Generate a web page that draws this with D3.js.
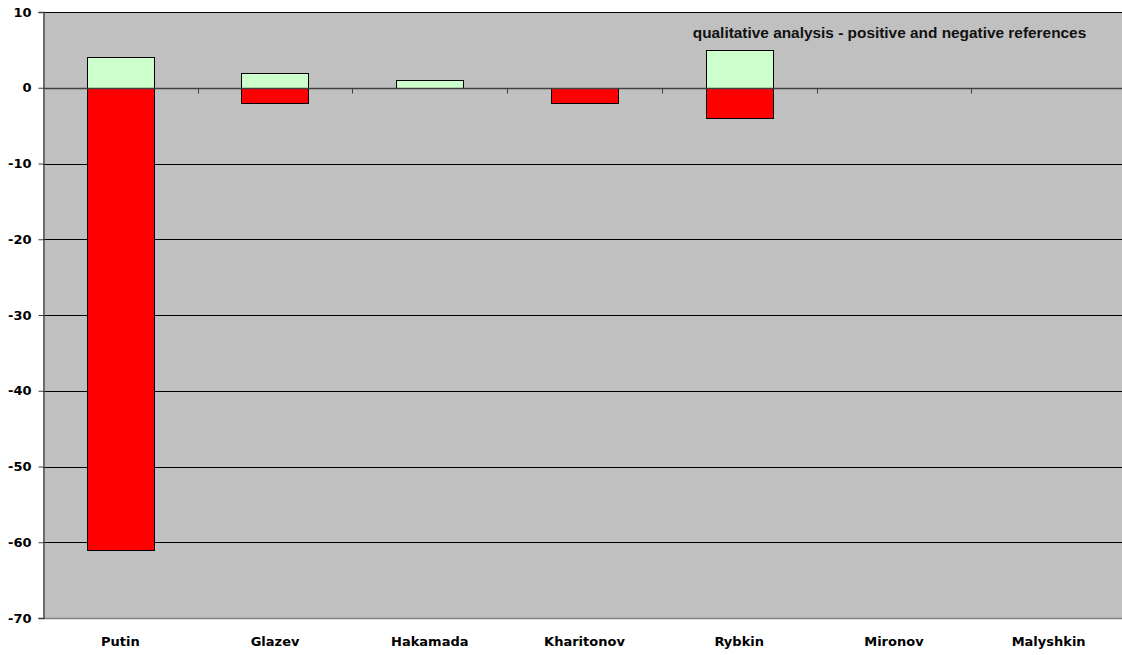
<!DOCTYPE html>
<html><head><meta charset="utf-8">
<script src="https://cdn.jsdelivr.net/npm/d3@7"></script>
<style>body{margin:0;background:#fff}svg{display:block}</style>
</head><body>
<svg id="c" width="1122" height="655"></svg>
<script>
const categories = ["Putin","Glazev","Hakamada","Kharitonov","Rybkin","Mironov","Malyshkin"];
const positive = [4, 2, 1, 0, 5, 0, 0];
const negative = [-61, -2, 0, -2, -4, 0, 0];
const yTicks = [10, 0, -10, -20, -30, -40, -50, -60, -70];
const title = "qualitative analysis - positive and negative references";

(function(){
const svg = d3.select("#c");
const pL = 43, pR = 1126, pT = 12, pB = 618;
const y = d3.scaleLinear().domain([-70, 10]).range([pB, pT]);
const x = d3.scaleBand().domain(categories).range([pL, pR]).paddingInner(0.565).paddingOuter(0.2825);
const xb = d3.scaleBand().domain(categories).range([pL, pR]).padding(0);

svg.append("rect").attr("x", pL).attr("y", pT).attr("width", pR-pL).attr("height", pB-pT).attr("fill", "#c0c0c0");

// gridlines
svg.append("g").selectAll("line").data(yTicks.filter(t => t !== 0 && t !== -70)).join("line")
  .attr("x1", pL).attr("x2", pR)
  .attr("y1", d => Math.round(y(d)) + 0.5).attr("y2", d => Math.round(y(d)) + 0.5)
  .attr("stroke", "#000").attr("stroke-width", 1);
svg.append("line").attr("x1", pL).attr("x2", pR).attr("y1", pB+0.5).attr("y2", pB+0.5).attr("stroke", "#808080").attr("stroke-width", 1.5);

// bars
svg.append("g").selectAll("rect").data(categories.filter((c,i)=>positive[i]>0)).join("rect")
  .attr("x", d => Math.round(x(d))+0.5).attr("width", Math.round(x.bandwidth()))
  .attr("y", d => Math.round(y(positive[categories.indexOf(d)]))+0.5).attr("height", d => Math.round(y(0)) - Math.round(y(positive[categories.indexOf(d)])))
  .attr("fill", "#ccffcc").attr("stroke", "#000").attr("stroke-width", 1);
svg.append("g").selectAll("rect").data(categories.filter((c,i)=>negative[i]<0)).join("rect")
  .attr("x", d => Math.round(x(d))+0.5).attr("width", Math.round(x.bandwidth()))
  .attr("y", Math.round(y(0))+0.5).attr("height", d => Math.round(y(negative[categories.indexOf(d)])) - Math.round(y(0)))
  .attr("fill", "#ff0000").attr("stroke", "#000").attr("stroke-width", 1);

// zero axis with category ticks
const y0 = Math.round(y(0)) + 0.5;
svg.append("line").attr("x1", pL).attr("x2", pR).attr("y1", y0).attr("y2", y0).attr("stroke", "#404040").attr("stroke-width", 1.3);
svg.append("g").selectAll("line").data(categories.slice(1)).join("line")
  .attr("x1", d => Math.round(xb(d))+0.5).attr("x2", d => Math.round(xb(d))+0.5)
  .attr("y1", y0).attr("y2", y0 + 5).attr("stroke", "#404040").attr("stroke-width", 1);

// y axis
const yAxis = d3.axisLeft(y).tickValues(yTicks).tickSize(5).tickPadding(7).tickFormat(d => String(d));
const ga = svg.append("g").attr("transform", `translate(${pL+0.5},0)`).call(yAxis);
ga.select(".domain").attr("stroke", "#404040").attr("stroke-width", 1.3);
ga.selectAll(".tick line").attr("stroke", "#404040");
ga.selectAll("text").attr("font-family", "DejaVu Sans, Verdana, sans-serif").attr("font-weight", "bold").attr("font-size", 13).attr("fill", "#000");

// x labels
svg.append("g").selectAll("text").data(categories).join("text")
  .attr("x", d => xb(d) + xb.bandwidth()/2).attr("y", 646)
  .attr("text-anchor", "middle")
  .attr("font-family", "DejaVu Sans, Verdana, sans-serif").attr("font-weight", "bold").attr("font-size", 13)
  .text(d => d);

svg.append("text").attr("x", 889.5).attr("y", 38).attr("text-anchor", "middle")
  .attr("font-family", "Liberation Sans, Arial, sans-serif").attr("font-weight", "bold").attr("font-size", 15.4)
  .attr("fill", "#111").text(title);
})();
</script>
</body></html>
